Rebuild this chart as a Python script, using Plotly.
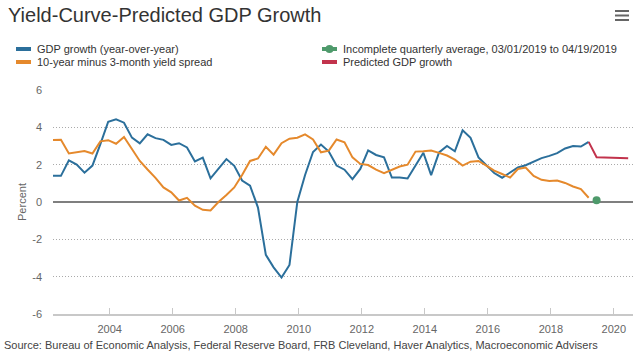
import pandas as pd
import plotly.graph_objects as go

# ---------------- data ----------------
gdp_quarters = pd.period_range("2002Q1", "2019Q1", freq="Q")
gdp_growth = [1.40, 1.40, 2.23, 2.00, 1.57, 1.95, 3.10, 4.30, 4.43, 4.25,
              3.45, 3.14, 3.63, 3.42, 3.33, 3.06, 3.15, 2.92, 2.17, 2.38,
              1.27, 1.76, 2.30, 1.94, 1.15, 0.88, -0.30, -2.83, -3.50, -4.05,
              -3.37, 0.00, 1.45, 2.68, 3.08, 2.70, 1.95, 1.73, 1.22, 1.77,
              2.76, 2.52, 2.39, 1.31, 1.31, 1.26, 1.93, 2.64, 1.44, 2.66,
              3.00, 2.72, 3.84, 3.44, 2.39, 1.98, 1.55, 1.30, 1.60, 1.85,
              1.97, 2.15, 2.35, 2.47, 2.62, 2.87, 3.00, 2.97, 3.22]
yield_spread = [3.32, 3.33, 2.60, 2.65, 2.73, 2.60, 3.25, 3.31, 3.12, 3.48,
                2.85, 2.20, 1.74, 1.29, 0.78, 0.52, 0.08, 0.22, -0.20, -0.42,
                -0.45, 0.00, 0.38, 0.78, 1.45, 2.20, 2.33, 2.96, 2.54, 3.15,
                3.39, 3.44, 3.62, 3.35, 2.66, 2.75, 3.35, 3.20, 2.39, 2.04,
                1.98, 1.73, 1.55, 1.73, 1.90, 2.00, 2.70, 2.72, 2.76, 2.63,
                2.49, 2.27, 1.95, 2.16, 2.20, 1.95, 1.68, 1.50, 1.31, 1.77,
                1.85, 1.40, 1.19, 1.13, 1.15, 1.02, 0.83, 0.69, 0.23]
incomplete_quarters = pd.period_range("2019Q2", "2019Q2", freq="Q")
incomplete_avg = [0.10]
pred_quarters = pd.period_range("2019Q1", "2020Q2", freq="Q")
predicted_gdp = [3.22, 2.40, 2.39, 2.38, 2.36, 2.34]

series_names = ["GDP growth (year-over-year)",
                "10-year minus 3-month yield spread",
                "Incomplete quarterly average, 03/01/2019 to 04/19/2019",
                "Predicted GDP growth"]
series_colors = ["#2b6f9b", "#e5892c", "#4e9a6b", "#c2334c"]

y_ticks = [-6, -4, -2, 0, 2, 4, 6]
y_tick_labels = ["-6", "-4", "-2", "0", "2", "4", "6"]

title_text = "Yield-Curve-Predicted GDP Growth"
source_text = ("Source: Bureau of Economic Analysis, Federal Reserve Board, FRB Cleveland, "
               "Haver Analytics, Macroeconomic Advisers")


def q_dates(periods):
    # plotted at the middle of the quarter's last month
    return [p.asfreq("M", "end").to_timestamp() + pd.Timedelta(days=14) for p in periods]


# ---------------- layout geometry ----------------
W, H = 640, 353
ML, MR, MT, MB = 53, 7, 90, 39
PW, PH = W - ML - MR, H - MT - MB


def px(x):
    return (x - ML) / PW


def py(y):
    return (H - MB - y) / PH


FONT = "Liberation Sans, Arial, Helvetica, sans-serif"

fig = go.Figure()
fig.add_trace(go.Scatter(x=q_dates(gdp_quarters), y=gdp_growth, mode="lines",
                         name=series_names[0], line=dict(color=series_colors[0], width=2)))
fig.add_trace(go.Scatter(x=q_dates(gdp_quarters), y=yield_spread, mode="lines",
                         name=series_names[1], line=dict(color=series_colors[1], width=2)))
fig.add_trace(go.Scatter(x=q_dates(pred_quarters), y=predicted_gdp, mode="lines",
                         name=series_names[3], line=dict(color=series_colors[3], width=2)))
fig.add_trace(go.Scatter(x=q_dates(incomplete_quarters), y=incomplete_avg, mode="lines+markers",
                         name=series_names[2], line=dict(color=series_colors[2], width=2),
                         marker=dict(color=series_colors[2], size=8)))

shapes = []
annotations = []

# manual two-column legend
legend_slots = [(0, 16, 49), (1, 16, 62), (2, 322, 49), (3, 322, 62)]
for idx, x0, y0 in legend_slots:
    shapes.append(dict(type="line", xref="paper", yref="paper",
                       x0=px(x0), x1=px(x0 + 15), y0=py(y0), y1=py(y0),
                       line=dict(color=series_colors[idx], width=4)))
    if idx == 2:
        shapes.append(dict(type="circle", xref="paper", yref="paper",
                           x0=px(x0 + 3.5), x1=px(x0 + 11.5), y0=py(y0 - 4), y1=py(y0 + 4),
                           fillcolor=series_colors[idx], line=dict(width=0)))
    annotations.append(dict(text=series_names[idx], xref="paper", yref="paper",
                            x=px(x0 + 19), y=py(y0), xanchor="left", yanchor="middle",
                            showarrow=False, font=dict(family=FONT, size=11, color="#333333")))

# hamburger menu icon
for yy in (11, 15.5, 20):
    shapes.append(dict(type="line", xref="paper", yref="paper",
                       x0=px(615), x1=px(629), y0=py(yy), y1=py(yy),
                       line=dict(color="#666666", width=2)))

annotations.append(dict(text=source_text, xref="paper", yref="paper",
                        x=px(2), y=py(345), xanchor="left", yanchor="middle",
                        showarrow=False, font=dict(family=FONT, size=11, color="#444444")))

fig.update_layout(
    width=W, height=H,
    margin=dict(l=ML, r=MR, t=MT, b=MB),
    paper_bgcolor="white", plot_bgcolor="white",
    showlegend=False,
    title=dict(text=title_text, x=8 / W, xref="container", xanchor="left",
               y=1 - 15 / H, yref="container", yanchor="middle",
               font=dict(family=FONT, size=20, color="#333333")),
    font=dict(family=FONT, size=11, color="#666666"),
    shapes=shapes,
    annotations=annotations,
)

fig.update_xaxes(type="date", range=["2002-03-15", "2020-08-10"],
                 tick0="2004-01-01", dtick="M24", tickformat="%Y",
                 showgrid=False, showline=True, linecolor="#c8c8c8", linewidth=2,
                 ticks="inside", ticklen=6, tickcolor="#c8c8c8", tickwidth=1,
                 tickfont=dict(family=FONT, size=11, color="#666666"),
                 ticklabelstandoff=4, zeroline=False)

fig.update_yaxes(range=[-6, 6], tickvals=y_ticks, ticktext=y_tick_labels,
                 showgrid=True, gridcolor="#aaaaaa", gridwidth=1, griddash="1px,2px",
                 zeroline=True, zerolinecolor="#7f7f7f", zerolinewidth=2,
                 showline=False, ticks="",
                 tickfont=dict(family=FONT, size=11, color="#666666"),
                 ticklabelstandoff=10,
                 title=dict(text="Percent", standoff=3,
                            font=dict(family=FONT, size=11, color="#666666")))

fig.write_html("out.html")
